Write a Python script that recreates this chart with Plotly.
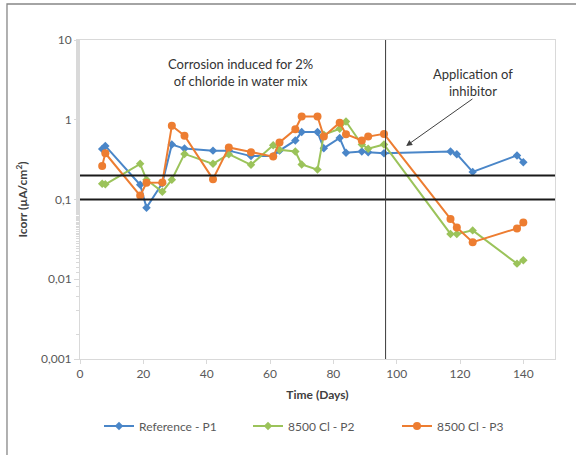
import math
import plotly.graph_objects as go

days = [7, 8, 19, 21, 26, 29, 33, 42, 47, 54, 61, 63, 68, 70, 75, 77, 82, 84, 89, 91, 96, 117, 119, 124, 138, 140]
ref_p1 = [0.43, 0.47, 0.153, 0.079, 0.16, 0.49, 0.435, 0.41, 0.41, 0.35, 0.35, 0.41, 0.55, 0.70, 0.70, 0.44, 0.59, 0.385, 0.40, 0.39, 0.38, 0.40, 0.37, 0.222, 0.357, 0.294]
cl_p2 = [0.158, 0.155, 0.28, 0.177, 0.125, 0.177, 0.373, 0.28, 0.37, 0.272, 0.48, 0.42, 0.40, 0.275, 0.237, 0.65, 0.77, 0.95, 0.49, 0.434, 0.49, 0.037, 0.037, 0.041, 0.0157, 0.0173]
cl_p3 = [0.264, 0.38, 0.112, 0.162, 0.163, 0.84, 0.63, 0.18, 0.45, 0.39, 0.345, 0.52, 0.76, 1.10, 1.10, 0.615, 0.92, 0.66, 0.55, 0.615, 0.665, 0.057, 0.0446, 0.0292, 0.0434, 0.0515]

series_names = ["Reference - P1", "8500 Cl - P2", "8500 Cl - P3"]
series_colors = ["#4A86C8", "#9BC35A", "#ED7D31"]
series_symbols = ["diamond", "diamond", "circle"]
series_sizes = [6.5, 6.5, 8]

thresholds = [0.1, 0.2]
inhibitor_day = 96.5
y_tickvals = [0.001, 0.01, 0.1, 1, 10]
y_ticktext = ["0,001", "0,01", "0,1", "1", "10"]
x_tickvals = [0, 20, 40, 60, 80, 100, 120, 140]

FONT = "Lato, 'Open Sans', sans-serif"

fig = go.Figure()

for name, ys, col, sym, sz in zip(series_names, [ref_p1, cl_p2, cl_p3], series_colors, series_symbols, series_sizes):
    fig.add_trace(go.Scatter(
        x=days, y=ys, name=name, mode="lines+markers",
        line=dict(color=col, width=2),
        marker=dict(color=col, symbol=sym, size=sz),
    ))

for t in thresholds:
    fig.add_trace(go.Scatter(
        x=[0, 150], y=[t, t], mode="lines", showlegend=False, hoverinfo="skip",
        line=dict(color="#1a1a1a", width=2.2),
    ))

fig.add_trace(go.Scatter(
    x=[inhibitor_day, inhibitor_day], y=[0.001, 10], mode="lines", showlegend=False,
    hoverinfo="skip", line=dict(color="#3a3a3a", width=1),
))

fig.add_annotation(
    x=50.6, y=math.log10(3.9), xref="x", yref="y",
    text="Corrosion induced for 2%<br>of chloride in water mix",
    showarrow=False, font=dict(family=FONT, size=13, color="#333333"),
)
fig.add_annotation(
    x=124.1, y=math.log10(2.95), xref="x", yref="y",
    text="Application of<br>inhibitor",
    showarrow=False, font=dict(family=FONT, size=13, color="#333333"),
)
fig.add_annotation(
    x=103, y=math.log10(0.47), xref="x", yref="y",
    ax=124.4, ay=math.log10(1.88), axref="x", ayref="y",
    text="", showarrow=True, arrowhead=2, arrowsize=1.2, arrowwidth=1, arrowcolor="#404040",
)

fig.add_shape(
    type="rect", xref="paper", yref="paper",
    x0=-0.1537, x1=1.06, y0=-0.33, y1=1.1129,
    line=dict(color="#878787", width=1.3), fillcolor="rgba(0,0,0,0)",
)

fig.update_layout(
    width=576, height=455,
    margin=dict(l=80, r=21, t=40, b=96),
    paper_bgcolor="white", plot_bgcolor="white",
    font=dict(family=FONT, size=12, color="#595959"),
    showlegend=True,
    legend=dict(
        orientation="h", x=0.04, y=-0.21, xanchor="left", yanchor="middle",
        entrywidth=104, entrywidthmode="pixels",
        font=dict(family=FONT, size=12, color="#595959"),
        itemwidth=30,
    ),
    xaxis=dict(
        range=[0, 150], tickvals=x_tickvals, showgrid=False, zeroline=False,
        showline=True, linecolor="#D9D9D9", linewidth=1, mirror=True,
        ticks="outside", ticklen=4, tickcolor="#D9D9D9",
        title=dict(text="<b>Time (Days)</b>", standoff=10,
                   font=dict(family=FONT, size=12, color="#404040")),
        tickfont=dict(family=FONT, size=12, color="#595959"),
    ),
    yaxis=dict(
        type="log", range=[-3, 1], tickvals=y_tickvals, ticktext=y_ticktext,
        showgrid=False, zeroline=False,
        showline=True, linecolor="#D9D9D9", linewidth=1, mirror=True,
        ticks="outside", ticklen=5, tickcolor="#D9D9D9",
        minor=dict(ticks="outside", ticklen=3, tickcolor="#D9D9D9", showgrid=False),
        title=dict(text="<b>Icorr (µA/cm<sup>2</sup>)</b>", standoff=10,
                   font=dict(family=FONT, size=12, color="#404040")),
        tickfont=dict(family=FONT, size=12, color="#595959"),
    ),
)

fig.write_html("out.html")
